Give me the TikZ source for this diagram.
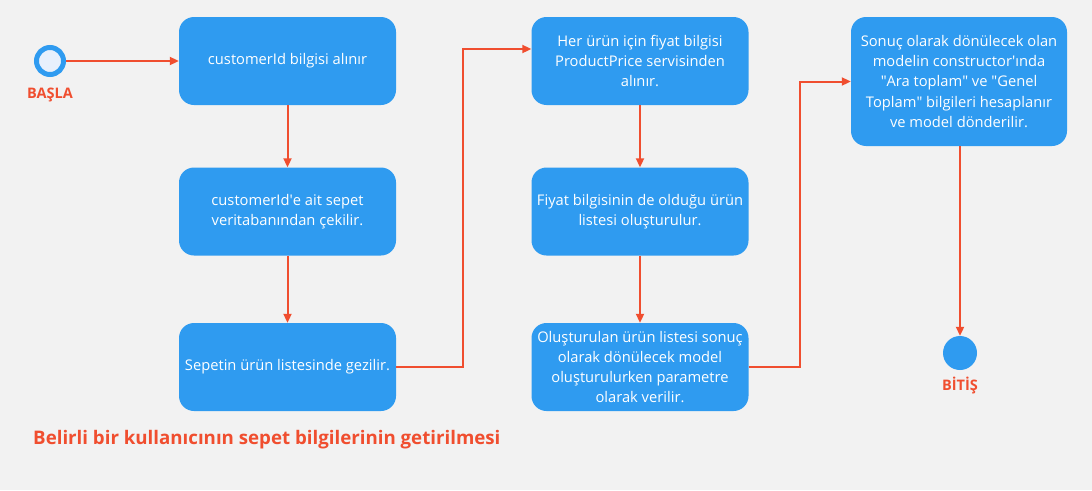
\documentclass[tikz,border=0pt]{standalone}
\usepackage{fontspec}
\setmainfont{Open Sans}
\usetikzlibrary{arrows.meta}

\definecolor{boxblue}{RGB}{47,155,240}
\definecolor{flowred}{RGB}{240,78,47}
\definecolor{bggray}{RGB}{242,242,242}
\definecolor{startfill}{RGB}{232,240,252}

\tikzset{
  flowline/.style={draw=flowred,line width=2pt,-{Triangle[length=9pt,width=8pt]}},
  flowlabel/.style={text=flowred,font=\bfseries\fontsize{14.5}{16}\selectfont}
}

\begin{document}
\begin{tikzpicture}[x=1pt,y=-1pt]

        \fill[bggray] (0,0) rectangle (1092,490);
        \useasboundingbox (0,0) rectangle (1092,490);

        \begin{scope}[every node/.style={rectangle,rounded corners=15pt,fill=boxblue,text=white,
            minimum width=217pt,minimum height=88pt,inner sep=1pt,align=center,
            font=\fontsize{14.7}{20.2}\selectfont}]
          \node (1) at (287.5,61)  {customerId bilgisi alınır};
          \node (2) at (287.5,211.5) {customerId\textquotesingle e ait sepet\\veritabanından çekilir.};
          \node (3) at (287.5,367) {Sepetin ürün listesinde gezilir.};
          \node (4) at (640,61)    {Her ürün için fiyat bilgisi\\ProductPrice servisinden\\alınır.};
          \node (5) at (640,211.5) {Fiyat bilgisinin de olduğu ürün\\listesi oluşturulur.};
          \node (6) at (640,367)   {Oluşturulan ürün listesi sonuç\\olarak dönülecek model\\oluşturulurken parametre\\olarak verilir.};
          \node[minimum width=216pt,minimum height=129pt] (7) at (959,81.5)
            {Sonuç olarak dönülecek olan\\modelin constructor\textquotesingle ında\\\textquotedbl Ara toplam\textquotedbl{} ve \textquotedbl Genel\\Toplam\textquotedbl{} bilgileri hesaplanır\\ve model dönderilir.};
        \end{scope}

        \begin{scope}[every node/.style={circle,inner sep=0pt}]
          \node[draw=boxblue,fill=startfill,line width=5pt,minimum size=27pt] (0) at (50,61) {};
          \node[fill=boxblue,minimum size=34pt] (8) at (960,353) {};
        \end{scope}

        \node[flowlabel] (basla) at (50,95)  {BAŞLA};
        \node[flowlabel] (bitis) at (960,386) {BİTİŞ};
        \node[text=flowred,anchor=west,inner sep=0pt,font=\bfseries\fontsize{18.7}{22}\selectfont]
          (title) at (33,440) {Belirli bir kullanıcının sepet bilgilerinin getirilmesi};

        \begin{scope}[every edge/.style={flowline}]
          \path (0) edge (1);
          \path (1) edge (2);
          \path (2) edge (3);
          \path (4) edge (5);
          \path (5) edge (6);
          \path (7.south -| 8.north) edge (8);
        \end{scope}

        \draw[flowline] (3.east) -- ++(67,0) |- ([yshift=12pt]4.west);
        \draw[flowline] (6.east) -- ++(51.5,0) |- (7.west);

      \end{tikzpicture}
\end{document}
